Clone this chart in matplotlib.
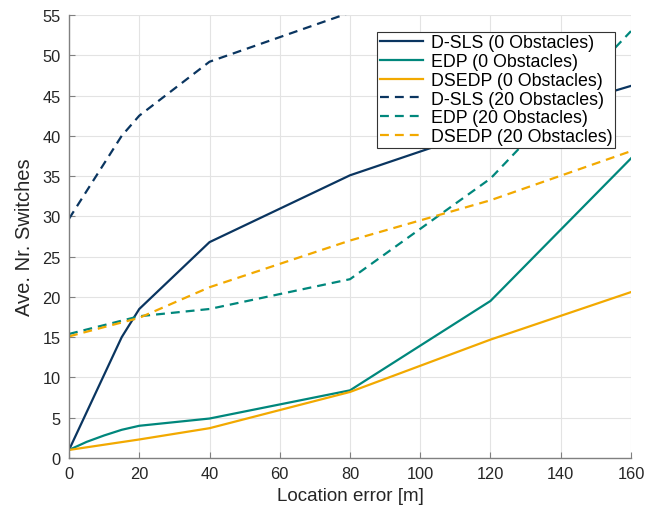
import numpy as np
import matplotlib
matplotlib.use('Agg')
import matplotlib.pyplot as plt

plt.rcParams['font.family'] = ['Liberation Sans', 'DejaVu Sans']

# data
x_dsls0 = [0, 15, 20, 40, 80, 120, 160]
dsls0 = [1.0, 15.0, 18.5, 26.8, 35.1, 41.0, 46.2]
x_edp0 = [0, 5, 10, 15, 20, 40, 80, 120, 160]
edp0 = [1.0, 2.0, 2.8, 3.5, 4.0, 4.9, 8.4, 19.5, 37.2]
x_dsedp0 = [0, 20, 40, 80, 120, 160]
dsedp0 = [1.0, 2.3, 3.7, 8.2, 14.7, 20.6]

x_dsls20 = [0, 15, 20, 40, 80]
dsls20 = [29.7, 40.0, 42.5, 49.2, 55.3]
x_edp20 = [0, 20, 40, 80, 120, 160]
edp20 = [15.4, 17.6, 18.5, 22.2, 34.7, 53.0]
x_dsedp20 = [0, 20, 40, 80, 120, 160]
dsedp20 = [15.1, 17.4, 21.2, 27.0, 32.0, 38.1]

labels = ['D-SLS (0 Obstacles)', 'EDP (0 Obstacles)', 'DSEDP (0 Obstacles)',
          'D-SLS (20 Obstacles)', 'EDP (20 Obstacles)', 'DSEDP (20 Obstacles)']

navy = '#0a3560'
teal = '#00877c'
orange = '#f2a900'
dash = (4, 2.7)

fig = plt.figure(figsize=(6.61, 5.10), dpi=100)
ax = fig.add_axes([0.1044, 0.1, 0.9546 - 0.1044, 0.9686 - 0.1])

ax.plot(x_dsls0, dsls0, color=navy, lw=1.6, label=labels[0])
ax.plot(x_edp0, edp0, color=teal, lw=1.6, label=labels[1])
ax.plot(x_dsedp0, dsedp0, color=orange, lw=1.6, label=labels[2])
ax.plot(x_dsls20, dsls20, color=navy, lw=1.6, dashes=dash, label=labels[3])
ax.plot(x_edp20, edp20, color=teal, lw=1.6, dashes=dash, label=labels[4])
ax.plot(x_dsedp20, dsedp20, color=orange, lw=1.6, dashes=dash, label=labels[5])

ax.set_xlim(0, 160)
ax.set_ylim(0, 55)
ax.set_xticks(np.arange(0, 161, 20))
ax.set_yticks(np.arange(0, 56, 5))
ax.grid(True, color='#e3e3e3', lw=0.8)
ax.set_axisbelow(True)
for s in ['top', 'right']:
    ax.spines[s].set_visible(False)
for s in ['left', 'bottom']:
    ax.spines[s].set_color('#808080')
    ax.spines[s].set_linewidth(1.0)
ax.tick_params(direction='in', length=4, colors='#808080', labelcolor='#262626',
               labelsize=11.8, pad=6)

ax.set_xlabel('Location error [m]', fontsize=13.5, color='#262626', labelpad=4)
ax.set_ylabel('Ave. Nr. Switches', fontsize=14.5, color='#262626', labelpad=6)

leg = ax.legend(loc='upper right', bbox_to_anchor=(615 / 661, (510 - 32.7) / 510),
                bbox_transform=fig.transFigure, fontsize=12.8, fancybox=False,
                framealpha=1, edgecolor='#333333', handlelength=2.4,
                borderpad=0.15, labelspacing=0.1, handletextpad=0.45,
                borderaxespad=0)
leg.get_frame().set_linewidth(0.8)

fig.savefig('out.png', dpi=100)
